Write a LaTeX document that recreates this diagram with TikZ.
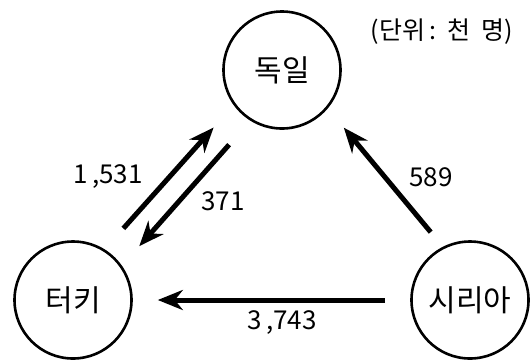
\documentclass[tikz,border=0pt]{standalone}
\usepackage{fontspec}
\newfontfamily\cjk{Noto Sans CJK KR}
\usetikzlibrary{arrows.meta}
\tikzset{
  country/.style={circle, draw=black, line width=2.6pt, minimum size=117pt, inner sep=0pt, font=\cjk\fontsize{30}{30}\selectfont},
  num/.style={font=\cjk\fontsize{26}{26}\selectfont, inner sep=0pt},
  flow/.style={line width=5pt, -{Stealth[length=25pt,width=20pt,inset=8pt]}}
}
\begin{document}
\begin{tikzpicture}[x=1pt,y=-1pt]
\useasboundingbox (0,0) rectangle (530,360);
\node[country] (germany) at (282,70) {독일};
\node[country] (turkey) at (73,300) {터키};
\node[country] (syria) at (470,300) {시리아};
% flows
\draw[flow, shorten <=28pt, shorten >=30pt] (turkey.58) -- (germany.216);
\draw[flow, shorten <=32pt, shorten >=26pt] (germany.238) -- (turkey.35);
\draw[flow, shorten <=19pt, shorten >=25pt] (syria.117) -- (germany.320);
\draw[flow, shorten <=25pt, shorten >=25pt] (syria.west) -- (turkey.east);
\node[num] (n1531) at (108,177) {1\,,531};
\node[num] (n371) at (223,201) {371};
\node[num] (n589) at (431,177) {589};
\node[num] (n3743) at (282,323) {3\,,743};
\node[num, font=\cjk\fontsize{25}{25}\selectfont] (unit) at (442,32) {(단위\,:\hspace{11pt}천\hspace{11pt}명)};
\end{tikzpicture}
\end{document}
